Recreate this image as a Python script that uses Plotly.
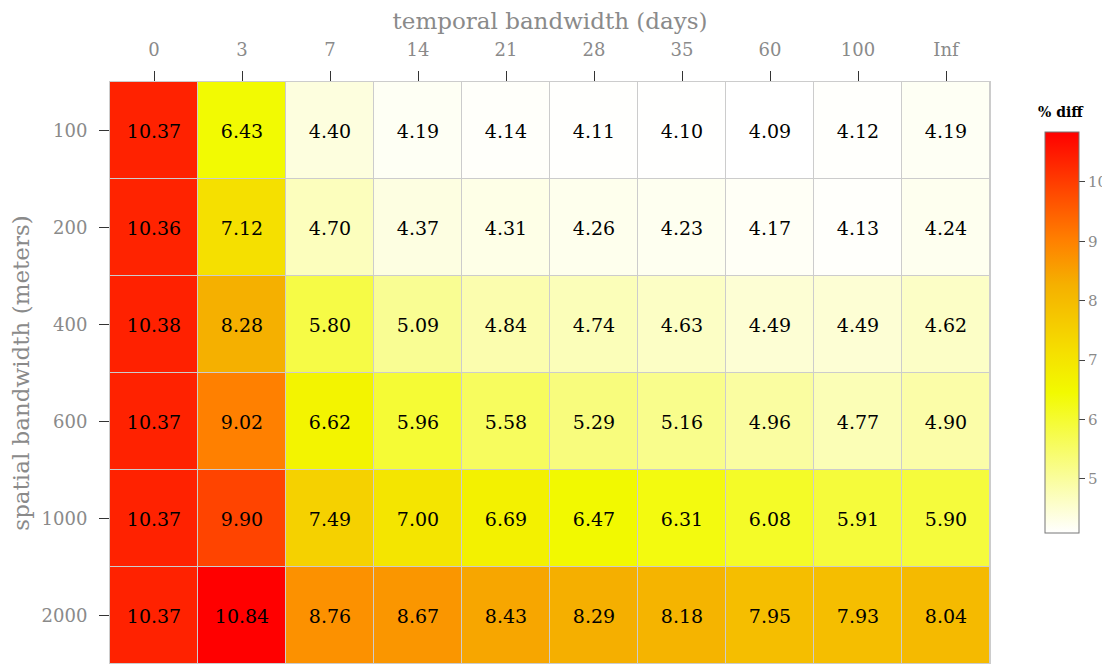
import plotly.graph_objects as go

temporal = ["0", "3", "7", "14", "21", "28", "35", "60", "100", "Inf"]
spatial = ["100", "200", "400", "600", "1000", "2000"]

row_100 = [10.37, 6.43, 4.40, 4.19, 4.14, 4.11, 4.10, 4.09, 4.12, 4.19]
row_200 = [10.36, 7.12, 4.70, 4.37, 4.31, 4.26, 4.23, 4.17, 4.13, 4.24]
row_400 = [10.38, 8.28, 5.80, 5.09, 4.84, 4.74, 4.63, 4.49, 4.49, 4.62]
row_600 = [10.37, 9.02, 6.62, 5.96, 5.58, 5.29, 5.16, 4.96, 4.77, 4.90]
row_1000 = [10.37, 9.90, 7.49, 7.00, 6.69, 6.47, 6.31, 6.08, 5.91, 5.90]
row_2000 = [10.37, 10.84, 8.76, 8.67, 8.43, 8.29, 8.18, 7.95, 7.93, 8.04]

z = [row_100, row_200, row_400, row_600, row_1000, row_2000]

colorscale = [
    [0.0, "#ffffff"],
    [0.35, "#f2fa00"],
    [0.45, "#f5e000"],
    [0.62, "#f5b000"],
    [0.73, "#ff8000"],
    [0.86, "#ff4400"],
    [1.0, "#ff0000"],
]

FONT = "DejaVu Serif"
GRAY = "#8a8a8a"

fig = go.Figure(
    go.Heatmap(
        z=z,
        x=temporal,
        y=spatial,
        colorscale=colorscale,
        xgap=1,
        ygap=1,
        texttemplate="%{z:.2f}",
        textfont=dict(family=FONT, size=19, color="black"),
        colorbar=dict(
            x=1.0625,
            xanchor="left",
            xpad=0,
            y=0.5696,
            yanchor="middle",
            ypad=0,
            len=0.689,
            lenmode="fraction",
            thickness=34,
            outlinecolor="#777777",
            outlinewidth=1,
            ticks="outside",
            ticklen=6,
            tickcolor="#444444",
            tickvals=[5, 6, 7, 8, 9, 10],
            tickfont=dict(family=FONT, size=15, color=GRAY),
        ),
    )
)

fig.add_annotation(
    text="<b>% diff</b>",
    xref="paper", yref="paper",
    x=1.0807, y=0.9485,
    xanchor="center", yanchor="middle",
    showarrow=False,
    font=dict(family=FONT, size=14, color="black"),
)

fig.update_layout(
    width=1110,
    height=664,
    margin=dict(l=102, r=128, t=74, b=8, autoexpand=False),
    paper_bgcolor="white",
    plot_bgcolor="#cccccc",
    font=dict(family=FONT, color=GRAY),
    xaxis=dict(
        side="top",
        title=dict(text="temporal bandwidth (days)", font=dict(family=FONT, size=23, color=GRAY), standoff=6),
        tickfont=dict(family=FONT, size=18, color=GRAY),
        ticks="outside",
        ticklen=10,
        tickcolor="#333333",
        ticklabelstandoff=8,
        showgrid=False,
        showline=True,
        mirror=True,
        linecolor="#cccccc",
        zeroline=False,
    ),
    yaxis=dict(
        autorange="reversed",
        title=dict(text="spatial bandwidth (meters)", font=dict(family=FONT, size=23, color=GRAY), standoff=10),
        tickfont=dict(family=FONT, size=18, color=GRAY),
        ticks="outside",
        ticklen=10,
        tickcolor="#333333",
        ticklabelstandoff=8,
        showgrid=False,
        showline=True,
        mirror=True,
        linecolor="#cccccc",
        zeroline=False,
    ),
)

fig.write_html("out.html")
